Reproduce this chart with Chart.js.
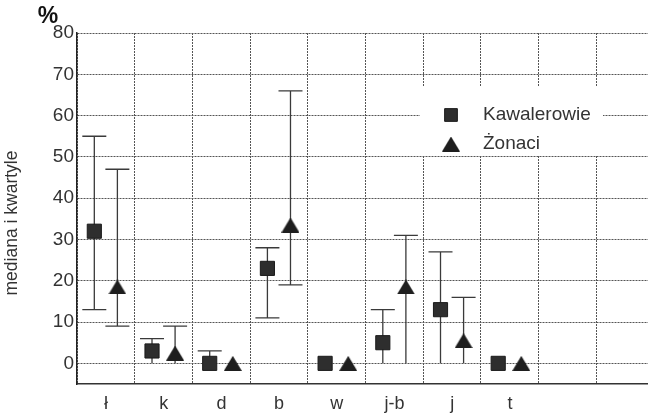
<!DOCTYPE html>
<html>
<head>
<meta charset="utf-8">
<script src="https://cdn.jsdelivr.net/npm/chart.js@4"></script>
<style>
  body { margin: 0; background: #fff; overflow: hidden; }
  #wrap { width: 665px; height: 413px; position: relative; }
</style>
</head>
<body>
<div id="wrap"><canvas id="myChart"></canvas></div>
<script>
// dane
const kategorie = ["ł", "k", "d", "b", "w", "j-b", "j", "t"];
const pusteKolumny = 2; // kolumny siatki bez danych po prawej
const yTicks = [0, 10, 20, 30, 40, 50, 60, 70, 80];

// Kawalerowie: mediana i kwartyle
const kawMediana = [32, 3, 0, 23, 0, 5, 13, 0];
const kawQ1 = [13, 0, 0, 11, null, 0, 0, null];
const kawQ3 = [55, 6, 3, 28, null, 13, 27, null];

// Żonaci: mediana i kwartyle
const zonMediana = [18.5, 2.5, 0, 33.5, 0, 18.5, 5.5, 0];
const zonQ1 = [9, 0, null, 19, null, 0, 0, null];
const zonQ3 = [47, 9, null, 66, null, 31, 16, null];

const kolorTekstu = "#333";
const przesuniecie = 0.2; // odsuniecie znacznikow od srodka kategorii

// trojkat jako obrazek, wysrodkowany w swoim prostokacie
function zrobTrojkat(w, h, kolor) {
  const c = document.createElement("canvas");
  c.width = w;
  c.height = h;
  const g = c.getContext("2d");
  g.fillStyle = kolor;
  g.beginPath();
  g.moveTo(w / 2, 0);
  g.lineTo(w, h);
  g.lineTo(0, h);
  g.closePath();
  g.fill();
  return c;
}
const trojkat = zrobTrojkat(18, 15, "#1e1e1e");

function punkty(mediany, dx) {
  return mediany.map((v, i) => ({ x: i + 0.5 + dx, y: v }));
}

// wasy (kwartyle)
const wasyPlugin = {
  id: "wasy",
  beforeDatasetsDraw(chart) {
    const ctx = chart.ctx;
    const yScale = chart.scales.y;
    ctx.save();
    ctx.strokeStyle = "#3a3a3a";
    ctx.lineWidth = 1.3;
    chart.data.datasets.forEach((ds, di) => {
      const meta = chart.getDatasetMeta(di);
      meta.data.forEach((p, j) => {
        const q1 = ds.q1[j];
        const q3 = ds.q3[j];
        if (q1 === null || q3 === null) return;
        const x = p.x;
        const y1 = yScale.getPixelForValue(q1);
        const y3 = yScale.getPixelForValue(q3);
        ctx.beginPath();
        ctx.moveTo(x, y1);
        ctx.lineTo(x, y3);
        ctx.moveTo(x - 12, y3);
        ctx.lineTo(x + 12, y3);
        if (q1 > 0) {
          ctx.moveTo(x - 12, y1);
          ctx.lineTo(x + 12, y1);
        }
        ctx.stroke();
      });
    });
    ctx.restore();
  }
};

// legenda wewnatrz wykresu, "%" i opis osi Y
const opisyPlugin = {
  id: "opisy",
  afterDraw(chart) {
    const ctx = chart.ctx;
    ctx.save();
    // tlo legendy
    ctx.fillStyle = "#fff";
    ctx.fillRect(420, 86, 183, 70);
    ctx.font = "19px 'Liberation Sans', Arial, sans-serif";
    ctx.textBaseline = "middle";
    chart.data.datasets.forEach((ds, i) => {
      const y = 115 + i * 29;
      ctx.fillStyle = ds.backgroundColor;
      ctx.strokeStyle = ds.borderColor;
      Chart.helpers.drawPoint(ctx, {
        pointStyle: ds.pointStyle,
        radius: 9,
        rotation: 0,
        borderWidth: 1
      }, 451, y);
      ctx.fillStyle = kolorTekstu;
      ctx.fillText(ds.label, 483, y);
    });
    // procent nad osia
    ctx.font = "bold 23px 'Liberation Sans', Arial, sans-serif";
    ctx.fillStyle = "#111";
    ctx.textAlign = "center";
    ctx.fillText("%", 48, 17);
    // opis osi Y
    ctx.translate(12, 223);
    ctx.rotate(-Math.PI / 2);
    ctx.font = "17.5px 'Liberation Sans', Arial, sans-serif";
    ctx.fillStyle = kolorTekstu;
    ctx.fillText("mediana i kwartyle", 0, 0);
    ctx.restore();
  }
};

const config = {
  type: "scatter",
  data: {
    datasets: [
      {
        label: "Kawalerowie",
        data: punkty(kawMediana, -przesuniecie),
        q1: kawQ1,
        q3: kawQ3,
        pointStyle: "rect",
        pointRadius: 10,
        backgroundColor: "#2e2e2e",
        borderColor: "#1a1a1a",
        borderWidth: 1
      },
      {
        label: "Żonaci",
        data: punkty(zonMediana, przesuniecie),
        q1: zonQ1,
        q3: zonQ3,
        pointStyle: trojkat,
        pointRadius: 9,
        backgroundColor: "#1e1e1e",
        borderColor: "#1e1e1e",
        borderWidth: 0
      }
    ]
  },
  options: {
    responsive: true,
    maintainAspectRatio: false,
    animation: false,
    layout: { padding: { top: 33, right: 8, left: 0, bottom: 0 } },
    plugins: {
      legend: { display: false },
      tooltip: { enabled: false }
    },
    scales: {
      x: {
        type: "linear",
        min: 0,
        max: kategorie.length + pusteKolumny,
        afterFit: (scale) => { scale.height = 29; },
        grid: { color: "#555", lineWidth: 1, drawTicks: false },
        border: { display: true, color: "#333", width: 1.5, dash: [2, 1] },
        ticks: {
          stepSize: 1,
          autoSkip: false,
          maxRotation: 0,
          padding: 9,
          labelOffset: 29,
          color: kolorTekstu,
          font: { size: 18, family: "'Liberation Sans', Arial, sans-serif" },
          callback: (v) => (kategorie[v] !== undefined ? kategorie[v] : "")
        }
      },
      y: {
        min: -5,
        max: 80,
        afterFit: (scale) => { scale.width = 77; },
        afterBuildTicks: (scale) => { scale.ticks = yTicks.map((v) => ({ value: v })); },
        grid: { color: "#555", lineWidth: 1, drawTicks: false },
        border: { display: true, color: "#222", width: 1.5, dash: [2, 1] },
        ticks: {
          padding: 3,
          color: kolorTekstu,
          font: { size: 19, family: "'Liberation Sans', Arial, sans-serif" }
        }
      }
    }
  },
  plugins: [wasyPlugin, opisyPlugin]
};

new Chart(document.getElementById("myChart"), config);
</script>
</body>
</html>
